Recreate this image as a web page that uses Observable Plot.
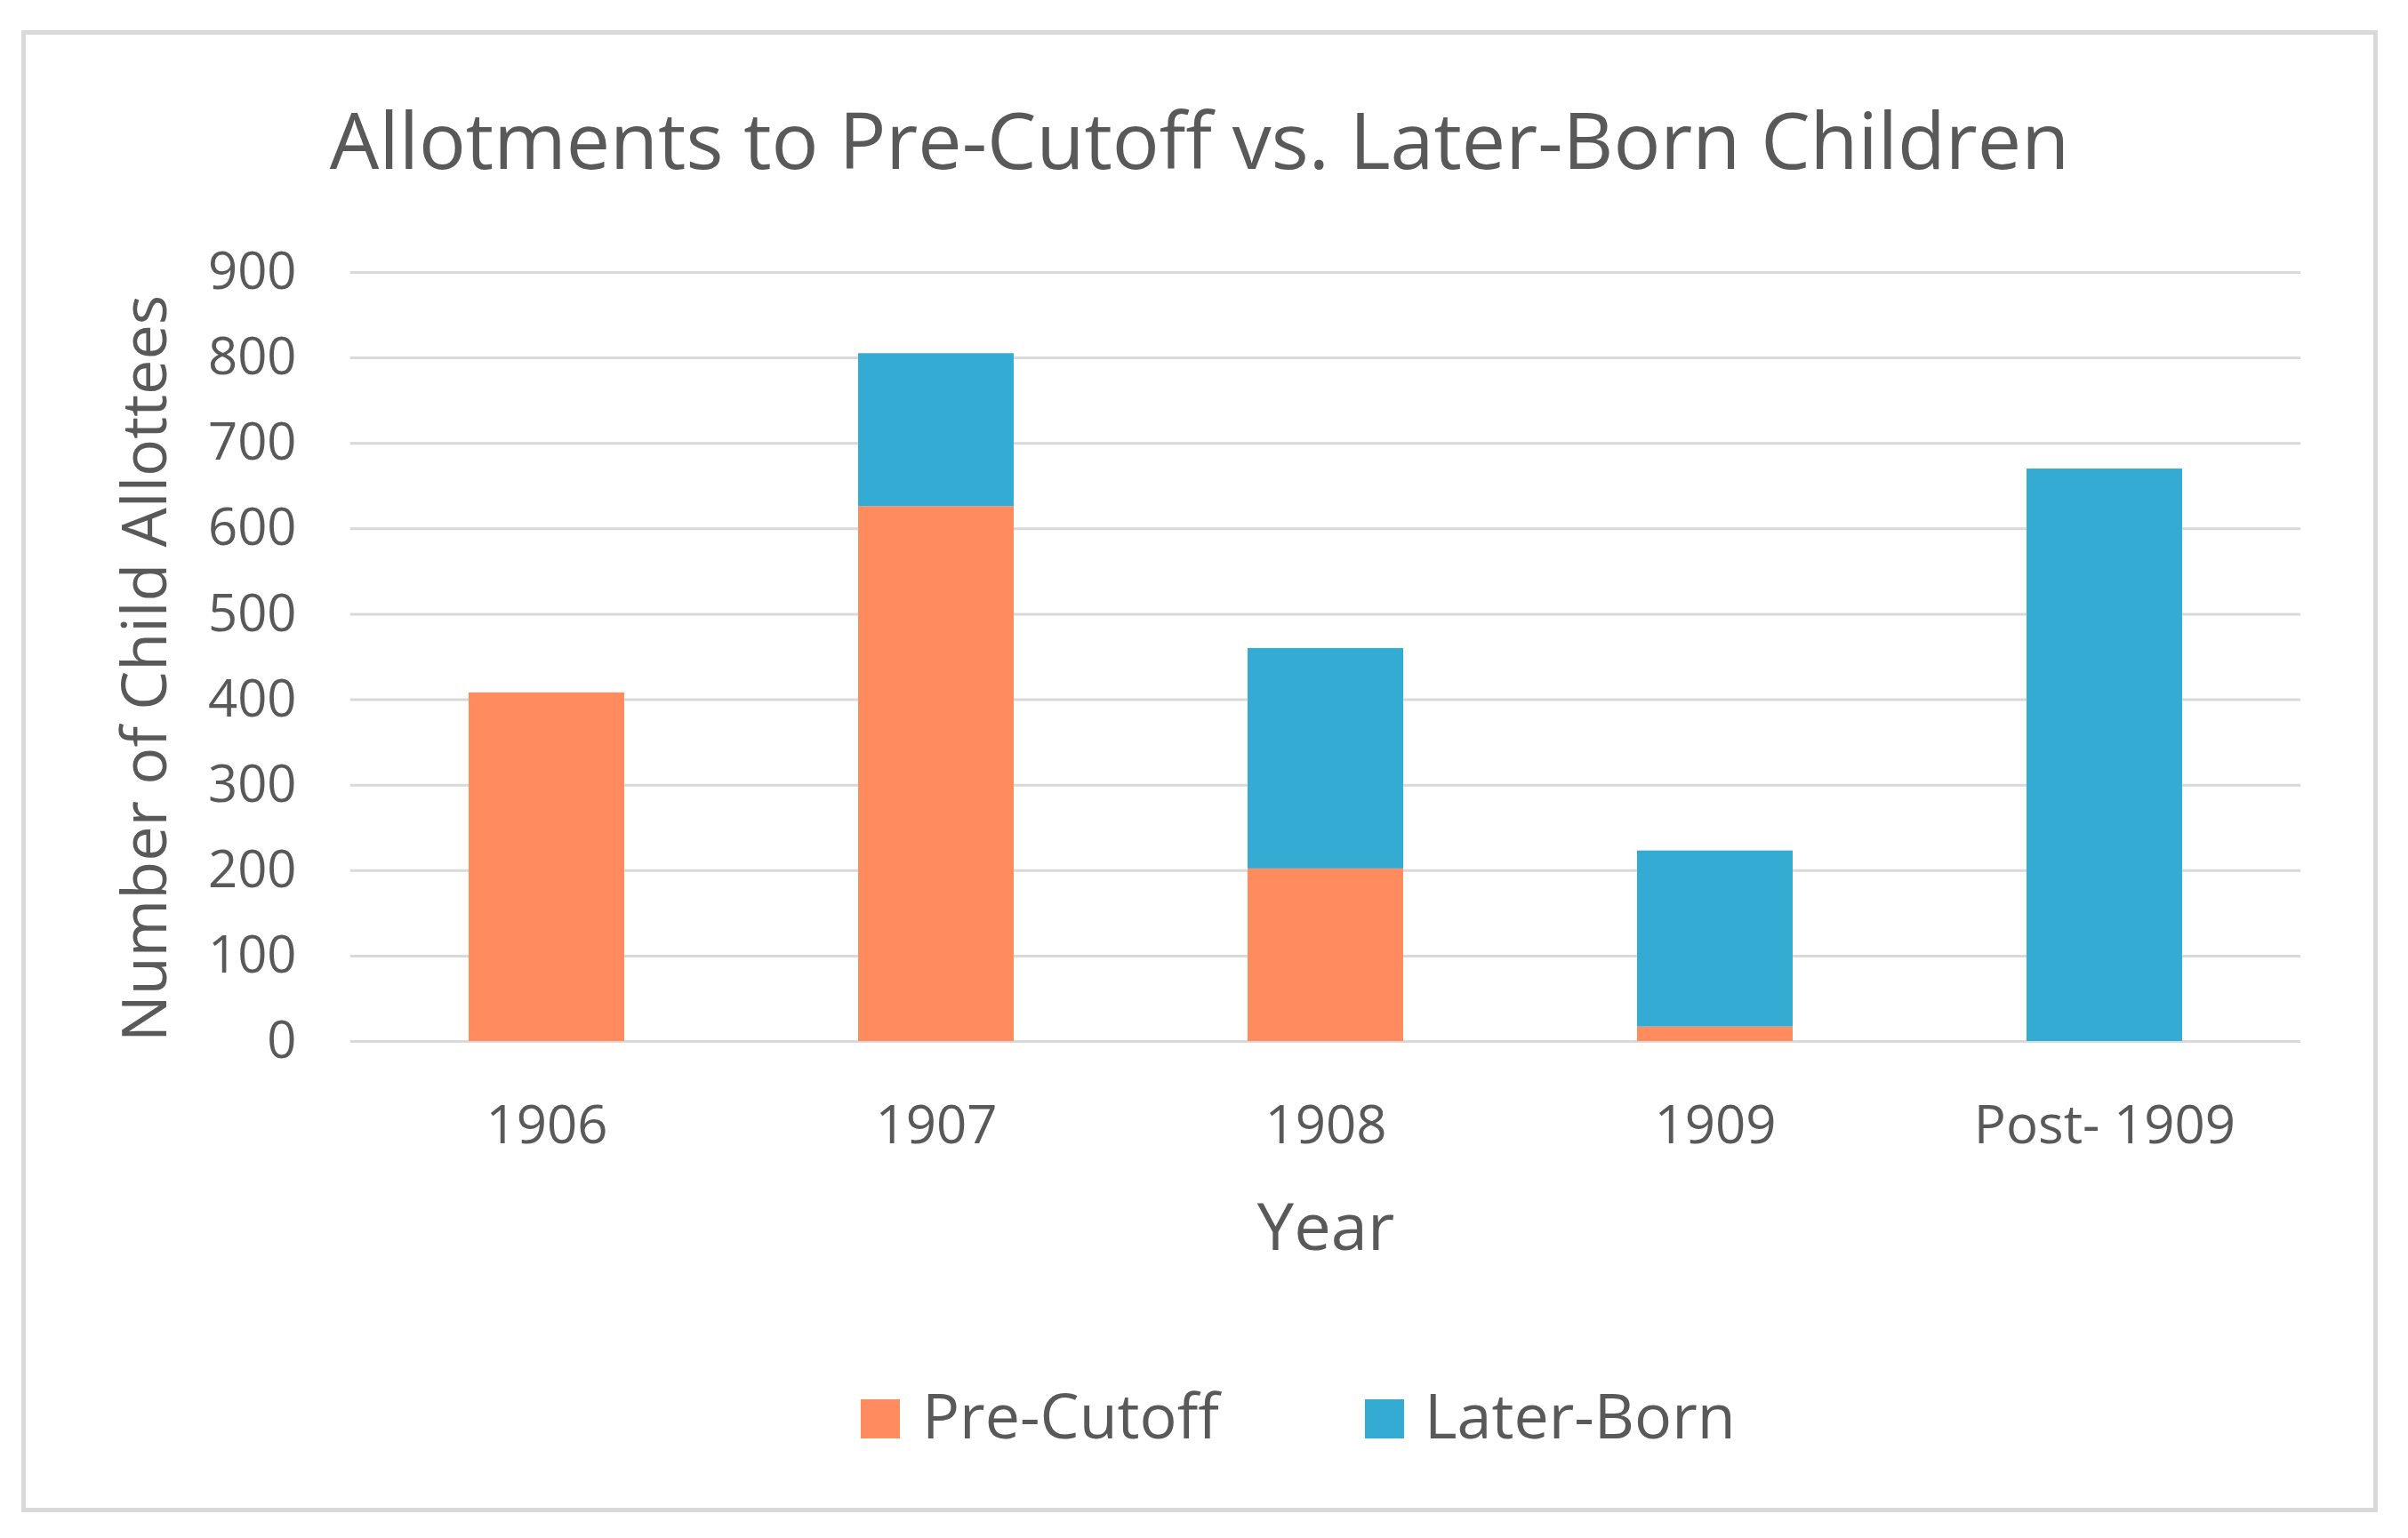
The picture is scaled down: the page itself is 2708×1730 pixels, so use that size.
<!DOCTYPE html>
<html>
<head>
<meta charset="utf-8">
<script src="https://cdn.jsdelivr.net/npm/d3@7"></script>
<script src="https://cdn.jsdelivr.net/npm/@observablehq/plot@0.6"></script>
<style>
  html, body { margin: 0; padding: 0; background: #ffffff; }
  body { width: 2708px; height: 1730px; position: relative; overflow: hidden; font-family: "Open Sans", sans-serif; }
  #frame { position: absolute; left: 24px; top: 34px; width: 2650px; height: 1667px; box-sizing: border-box; border: 5px solid #d9d9d9; }
  #title { position: absolute; left: 24px; top: 112px; width: 2650px; text-align: center; font-size: 88px; line-height: 1; color: #595959; white-space: nowrap; }
  #chart { position: absolute; left: 0; top: 150px; }
  .sw { position: absolute; width: 44px; height: 44px; top: 1574px; }
  .lt { position: absolute; top: 1556px; font-size: 70px; line-height: 1; color: #595959; white-space: nowrap; }
</style>
</head>
<body>
<div id="frame"></div>
<div id="title">Allotments to Pre-Cutoff vs. Later-Born Children</div>
<div id="chart"></div>
<div id="legend"></div>
<script>
const years = ["1906", "1907", "1908", "1909", "Post- 1909"];
const preCutoff = [408, 626, 202, 17, 0];
const laterBorn = [0, 179, 258, 206, 670];
const seriesNames = ["Pre-Cutoff", "Later-Born"];
const seriesColors = ["#FF8B5E", "#33ABD3"];
const yTicks = [0, 100, 200, 300, 400, 500, 600, 700, 800, 900];
const xTitle = ["Year"];
const yTitle = ["Number of Child Allottees"];

const rows = [];
years.forEach((yr, i) => {
  rows.push({year: yr, series: seriesNames[0], value: preCutoff[i]});
  rows.push({year: yr, series: seriesNames[1], value: laterBorn[i]});
});

const chart = Plot.plot({
  width: 2708,
  height: 1300,
  marginLeft: 394,
  marginRight: 121,
  marginTop: 156,
  marginBottom: 279,
  style: {fontFamily: "Open Sans, sans-serif", fontSize: "60px", color: "#595959", background: "transparent", overflow: "visible"},
  x: {domain: years, paddingInner: 0.6, paddingOuter: 0.3, label: null},
  y: {domain: [0, 900], ticks: yTicks, label: null},
  color: {domain: seriesNames, range: seriesColors},
  marks: [
    Plot.gridY(yTicks, {stroke: "#d9d9d9", strokeOpacity: 1, strokeWidth: 3}),
    Plot.barY(rows, {x: "year", y: "value", fill: "series", order: seriesNames, inset: 0}),
    Plot.axisY(yTicks, {tickSize: 0, tickPadding: 61, fontSize: 58, fill: "#595959", label: null}),
    Plot.axisX({tickSize: 0, tickPadding: 72, fontSize: 60, fill: "#595959", label: null}),
    Plot.text(xTitle, {frameAnchor: "bottom", lineAnchor: "top", dy: 182, fontSize: 74, fill: "#595959"}),
    Plot.text(yTitle, {frameAnchor: "left", textAnchor: "middle", lineAnchor: "top", rotate: -90, dx: -257, dy: 13, fontSize: 70, fill: "#595959"})
  ]
});
document.getElementById("chart").appendChild(chart);

const legend = document.getElementById("legend");
const swLeft = [968, 1535];
const txtLeft = [1037, 1602];
seriesNames.forEach((s, i) => {
  const sw = document.createElement("div");
  sw.className = "sw";
  sw.style.left = swLeft[i] + "px";
  sw.style.background = seriesColors[i];
  legend.appendChild(sw);
  const t = document.createElement("div");
  t.className = "lt";
  t.style.left = txtLeft[i] + "px";
  t.textContent = s;
  legend.appendChild(t);
});
</script>
</body>
</html>
